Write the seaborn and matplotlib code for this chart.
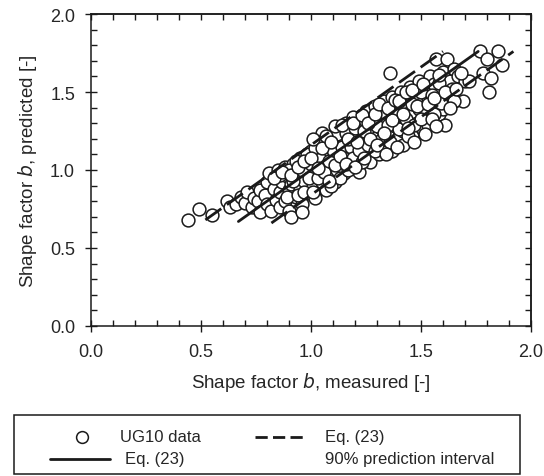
import matplotlib
matplotlib.use("Agg")
import matplotlib.pyplot as plt
import seaborn as sns
import numpy as np
import pandas as pd
from matplotlib.lines import Line2D
from matplotlib.patches import Rectangle
from matplotlib.ticker import MultipleLocator

# ---- data ----
measured = [0.44, 0.49, 0.55, 0.62, 0.63, 0.66, 0.68, 0.70, 0.71, 0.73, 0.74, 0.76, 0.77, 0.77, 0.79,
            0.80, 0.80, 0.81, 0.82, 0.83, 0.84, 0.85, 0.85, 0.86, 0.86, 0.87, 0.88, 0.88, 0.89, 0.90,
            0.90, 0.91, 0.91, 0.92, 0.93, 0.94, 0.95, 0.95, 0.96, 0.96, 0.97, 0.98, 0.99, 1.00, 1.00,
            1.01, 1.02, 1.02, 1.03, 1.04, 1.05, 1.05, 1.06, 1.07, 1.07, 1.08, 1.09, 1.10, 1.10, 1.11,
            1.12, 1.12, 1.13, 1.14, 1.15, 1.15, 1.16, 1.17, 1.18, 1.18, 1.19, 1.20, 1.21, 1.21, 1.22,
            1.23, 1.24, 1.25, 1.25, 1.26, 1.27, 1.28, 1.28, 1.29, 1.30, 1.31, 1.31, 1.32, 1.33, 1.33,
            1.34, 1.35, 1.36, 1.36, 1.37, 1.37, 1.38, 1.39, 1.39, 1.40, 1.41, 1.42, 1.42, 1.43, 1.44,
            1.45, 1.45, 1.46, 1.47, 1.48, 1.48, 1.49, 1.50, 1.51, 1.51, 1.52, 1.53, 1.54, 1.54, 1.55,
            1.56, 1.57, 1.57, 1.58, 1.59, 1.60, 1.60, 1.61, 1.62, 1.62, 1.63, 1.64, 1.65, 1.65, 1.67,
            1.69, 1.70, 1.72, 1.77, 1.78, 1.80, 1.82, 1.81, 1.85, 1.87,
            0.86, 0.89, 0.90, 0.92, 0.93, 0.94, 0.96, 0.97, 0.98, 0.99, 1.00, 1.01, 1.02, 1.03, 1.04,
            1.06, 1.06, 1.08, 1.09, 1.10, 1.11, 1.12, 1.13, 1.14, 1.15, 1.16, 1.17, 1.18, 1.19, 1.20,
            1.22, 1.23, 1.24, 1.26, 1.27, 1.29, 1.30, 1.32, 1.33, 1.35, 1.36, 1.38, 1.40, 1.41, 1.43,
            1.44, 1.46, 1.47, 1.49, 1.50, 1.52, 1.53, 1.55, 1.56, 1.58, 1.59, 1.65,
            0.83, 0.87, 0.91, 0.94, 0.97, 1.00, 1.01, 1.03, 1.05, 1.07, 1.08, 1.09, 1.11, 1.13, 1.14,
            1.16, 1.17, 1.19, 1.20, 1.21, 1.23, 1.24, 1.26, 1.27, 1.29, 1.30, 1.31, 1.33, 1.34, 1.35,
            1.37, 1.38, 1.39, 1.40, 1.42, 1.43, 1.44, 1.46, 1.47, 1.48, 1.50, 1.51, 1.52, 1.53, 1.55,
            1.56, 1.57, 1.58, 1.61, 1.63, 1.66, 1.68]
predicted = [0.68, 0.75, 0.71, 0.80, 0.76, 0.78, 0.83, 0.79, 0.86, 0.76, 0.82, 0.80, 0.73, 0.87, 0.84,
             0.78, 0.92, 0.98, 0.74, 0.88, 0.81, 0.95, 1.00, 0.76, 0.86, 0.92, 0.80, 1.02, 0.96, 0.87,
             0.74, 0.70, 0.91, 1.04, 0.83, 0.97, 0.88, 1.08, 0.78, 0.73, 0.93, 1.02, 0.85, 0.96, 1.12,
             0.90, 1.05, 0.82, 1.18, 0.98, 1.24, 0.92, 1.10, 1.02, 0.87, 1.15, 0.96, 1.06, 1.21, 0.92,
             1.12, 1.00, 1.26, 1.05, 0.98, 1.17, 1.30, 1.10, 1.02, 1.22, 1.34, 1.14, 1.06, 1.27, 0.99,
             1.19, 1.32, 1.11, 1.38, 1.24, 1.05, 1.16, 1.30, 1.41, 1.21, 1.10, 1.35, 1.27, 1.15, 1.44,
             1.33, 1.22, 1.62, 1.38, 1.12, 1.47, 1.28, 1.20, 1.42, 1.35, 1.50, 1.25, 1.16, 1.40, 1.31,
             1.53, 1.45, 1.22, 1.37, 1.48, 1.30, 1.57, 1.42, 1.26, 1.35, 1.51, 1.46, 1.31, 1.60, 1.39,
             1.55, 1.71, 1.45, 1.36, 1.50, 1.39, 1.63, 1.29, 1.71, 1.47, 1.57, 1.52, 1.65, 1.44, 1.60,
             1.44, 1.57, 1.57, 1.76, 1.62, 1.71, 1.59, 1.50, 1.76, 1.67,
             0.97, 0.83, 1.00, 0.93, 1.06, 0.84, 1.00, 0.86, 1.10, 0.95, 1.04, 0.86, 1.14, 0.95, 1.07,
             0.99, 1.19, 1.06, 0.90, 1.13, 1.03, 1.23, 0.95, 1.15, 1.08, 1.24, 1.00, 1.15, 1.08, 1.27,
             1.13, 1.05, 1.25, 1.16, 1.33, 1.12, 1.28, 1.19, 1.37, 1.29, 1.18, 1.36, 1.26, 1.43, 1.33,
             1.22, 1.42, 1.29, 1.39, 1.50, 1.40, 1.29, 1.48, 1.36, 1.56, 1.43, 1.44,
             0.95, 0.99, 0.97, 1.02, 1.06, 1.08, 1.20, 1.01, 1.14, 1.22, 0.93, 1.18, 1.28, 1.09, 1.29,
             1.04, 1.20, 1.30, 1.02, 1.18, 1.35, 1.08, 1.30, 1.20, 1.36, 1.16, 1.42, 1.24, 1.10, 1.40,
             1.32, 1.45, 1.15, 1.44, 1.36, 1.50, 1.27, 1.51, 1.18, 1.41, 1.33, 1.55, 1.23, 1.42, 1.33,
             1.46, 1.28, 1.61, 1.50, 1.40, 1.52, 1.62]

# Eq. (23) line and 90% prediction interval (offset from the 1:1 line)
line_names = ["eq23", "upper", "lower"]
line_x_start = [0.67, 0.52, 0.82]
line_x_end = [1.76, 1.60, 1.92]
line_offset = [0.0, 0.16, -0.16]

x_ticks = [0.0, 0.5, 1.0, 1.5, 2.0]
y_ticks = [0.0, 0.5, 1.0, 1.5, 2.0]

# ---- style ----
sns.set_style("ticks")
plt.rcParams['font.family'] = ['Liberation Sans', 'DejaVu Sans']
ink = "#1a1a1a"
txt = "#262626"

fig = plt.figure(figsize=(5.44, 4.77), dpi=100)
ax = fig.add_axes([91/544, 1-327/477, 440/544, 312/477])

df = pd.DataFrame({"measured": measured, "predicted": predicted})
sns.scatterplot(data=df, x="measured", y="predicted", ax=ax, marker="o", s=85,
                facecolor="white", edgecolor=ink, linewidth=1.1, zorder=2, legend=False)

for name, x0, x1, off in zip(line_names, line_x_start, line_x_end, line_offset):
    xs = np.array([x0, x1])
    ldf = pd.DataFrame({"x": xs, "y": xs + off})
    if name == "eq23":
        sns.lineplot(data=ldf, x="x", y="y", ax=ax, color=ink, lw=2.0, zorder=3)
    else:
        sns.lineplot(data=ldf, x="x", y="y", ax=ax, color=ink, lw=2.0, zorder=3,
                     dashes=False, linestyle=(0, (7, 2.5)))

ax.set_xlim(0, 2)
ax.set_ylim(0, 2)
ax.set_xticks(x_ticks)
ax.set_yticks(y_ticks)
ax.set_xticklabels([f"{v:.1f}" for v in x_ticks])
ax.set_yticklabels([f"{v:.1f}" for v in y_ticks])
ax.xaxis.set_minor_locator(MultipleLocator(0.1))
ax.yaxis.set_minor_locator(MultipleLocator(0.1))
ax.tick_params(which="major", direction="inout", length=9, width=1.0, color=ink,
               labelsize=13, labelcolor=txt)
ax.tick_params(axis="y", which="major", pad=7)
ax.tick_params(axis="x", which="major", pad=8)
ax.tick_params(which="minor", direction="in", length=4.5, width=1.0, color=ink)
for sp in ax.spines.values():
    sp.set_linewidth(1.1)
    sp.set_color(ink)

# ticks on top and right spines, pointing inward
secx = ax.secondary_xaxis("top")
secx.set_xticks(x_ticks)
secx.xaxis.set_minor_locator(MultipleLocator(0.1))
secx.tick_params(which="major", direction="in", length=4.5, width=1.0, color=ink, labeltop=False)
secx.tick_params(which="minor", direction="in", length=4.5, width=1.0, color=ink)
secx.spines["top"].set_linewidth(1.1)
secy = ax.secondary_yaxis("right")
secy.set_yticks(y_ticks)
secy.yaxis.set_minor_locator(MultipleLocator(0.1))
secy.tick_params(which="major", direction="in", length=4.5, width=1.0, color=ink, labelright=False)
secy.tick_params(which="minor", direction="in", length=4.5, width=1.0, color=ink)
secy.spines["right"].set_linewidth(1.1)

ax.set_xlabel(r"Shape factor $\it{b}$, measured [-]", fontsize=13.5, color=txt, labelpad=7)
ax.set_ylabel(r"Shape factor $\it{b}$, predicted [-]", fontsize=13.5, color=txt, labelpad=8)

# ---- legend box (figure pixel coordinates) ----
W, H = 544, 477
def fx(px): return px / W
def fy(py): return 1 - py / H

fig.add_artist(Rectangle((fx(14), fy(475)), fx(520) - fx(14), fy(416) - fy(475),
                         transform=fig.transFigure, fill=False, edgecolor=ink, lw=1.1))
r1, r2 = 438, 460
fig.add_artist(Line2D([fx(82)], [fy(r1)], transform=fig.transFigure, marker="o", ms=8.5,
                      mfc="white", mec=ink, mew=1.1, ls="none"))
fig.text(fx(120), fy(r1), "UG10 data", fontsize=12, va="center", ha="left", color=txt)
fig.add_artist(Line2D([fx(50), fx(110)], [fy(r2), fy(r2)], transform=fig.transFigure,
                      color=ink, lw=2.0))
fig.text(fx(125), fy(r2), "Eq. (23)", fontsize=12, va="center", ha="left", color=txt)
fig.add_artist(Line2D([fx(255), fx(305)], [fy(r1), fy(r1)], transform=fig.transFigure,
                      color=ink, lw=2.0, linestyle=(0, (4.4, 1.9))))
fig.text(fx(325), fy(r1), "Eq. (23)", fontsize=12, va="center", ha="left", color=txt)
fig.text(fx(325), fy(r2), "90% prediction interval", fontsize=12, va="center", ha="left", color=txt)

fig.savefig("out.png", dpi=100)
